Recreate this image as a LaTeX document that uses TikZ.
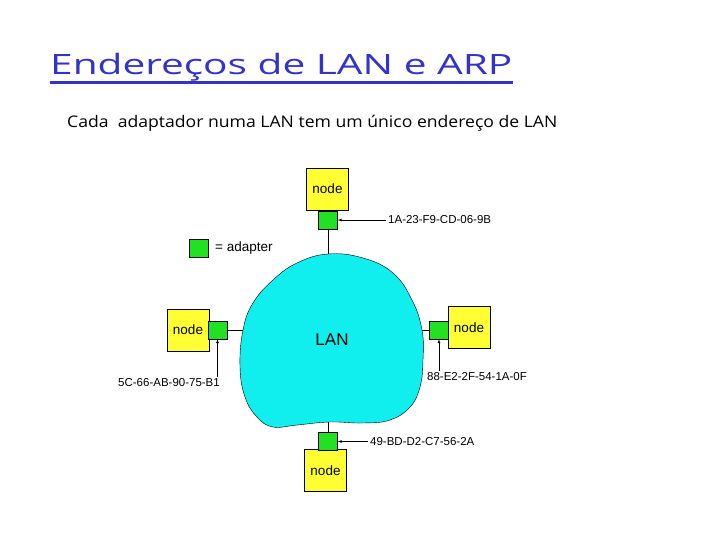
\documentclass[tikz,border=0pt]{standalone}
\usepackage{fontspec}
\setmainfont{Liberation Sans}
\newfontfamily\titlefont[FakeStretch=1.45]{Open Sans}
\newfontfamily\slidefont[FakeStretch=1.1]{Open Sans}
\definecolor{titleblue}{RGB}{51,51,204}
\definecolor{hostyellow}{RGB}{255,255,51}
\definecolor{adaptergreen}{RGB}{34,224,34}
\definecolor{lancyan}{RGB}{17,238,238}

\begin{document}
\begin{tikzpicture}
		[x=1pt, y=-1pt,
		every node/.style={inner sep=2pt},
		host/.style={draw, fill=hostyellow, minimum width=42pt, minimum height=42pt, font=\fontsize{13.5}{15}\selectfont},
		adapter/.style={draw, fill=adaptergreen, minimum width=19pt, minimum height=18pt, inner sep=0pt},
		mac/.style={font=\fontsize{11.5}{13}\selectfont},
		pointer/.style={draw, -latex}
		]
		\useasboundingbox (0,0) rectangle (720,540);
		\node[anchor=base west, inner sep=0pt, text=titleblue, font=\titlefont\fontsize{28}{34}\selectfont] (title) at (50,75) {Endereços de LAN e ARP};
		\draw[titleblue, line width=3pt] ([yshift=-8pt]title.base west) -- ([yshift=-8pt]title.base east);
		\node[anchor=base west, inner sep=0pt, font=\slidefont\fontsize{16}{19}\selectfont] (subtitle) at (67,128) {Cada\ \ adaptador numa LAN tem um único endereço de LAN};
		\filldraw[fill=lancyan, draw=black, thin] plot[smooth cycle, tension=0.7] coordinates {
			(328,254) (363,258) (393,273) (412,300) (422,330) (423,360) (420,387)
			(410,407) (390,420) (363,423) (330,422) (297,425) (273,427) (257,417)
			(245,397) (240,367) (243,330) (253,303) (273,280) (297,263)};
		\begin{scope}
			\node[font=\fontsize{17}{20}\selectfont] (lan) at (332,339.5) {LAN};
			\coordinate (lantop) at (328,254);
			\coordinate (lanleft) at (243,330);
			\coordinate (lanright) at (422,330);
			\coordinate (lanbot) at (328,422);
			\node[host] (tophost) at (327.5,189) {node};
			\node[adapter] (topad) at (328,220) {};
			\node[host] (lefthost) at (188,330) {node};
			\node[adapter] (leftad) at (217.5,330) {};
			\node[host] (righthost) at (469,327.5) {node};
			\node[adapter] (rightad) at (439,330) {};
			\node[host] (bothost) at (325.5,470.5) {node};
			\node[adapter] (botad) at (328,441.5) {};
			\node[adapter] (legendad) at (199,248) {};
			\node[anchor=west, font=\fontsize{13.5}{15}\selectfont] (legendtext) at (213,248) {= adapter};
			\node[mac, anchor=west] (topmac) at (386,220) {1A-23-F9-CD-06-9B};
			\node[mac, anchor=west] (botmac) at (368,441.5) {49-BD-D2-C7-56-2A};
			\node[mac] (leftmac) at (169,383) {5C-66-AB-90-75-B1};
			\node[mac] (rightmac) at (477,377) {88-E2-2F-54-1A-0F};
		\end{scope}
		\draw (topad) -- (lantop);  \draw (leftad) -- (lanleft);
		\draw (rightad) -- (lanright);  \draw (botad) -- (lanbot);
		\draw[pointer] (topmac) -- (topad);
		\draw[pointer] (botmac) -- (botad);
		\foreach \x in {left, right}
		\draw[pointer] (\x ad.south |- \x mac.north) -- (\x ad.south);
	\end{tikzpicture}
\end{document}
